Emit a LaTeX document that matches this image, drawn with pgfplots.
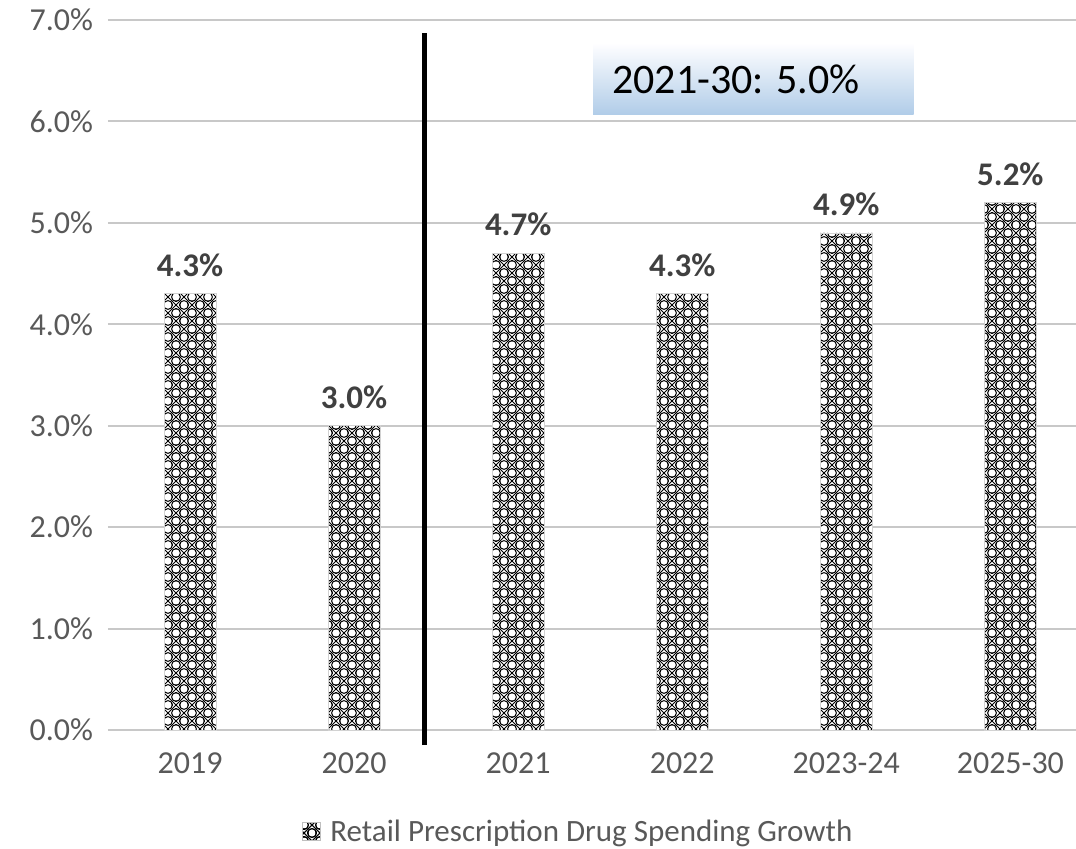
\documentclass[border=0pt]{standalone}
\usepackage{pgfplots}
\pgfplotsset{compat=1.18}
\usepackage{fontspec}
\setmainfont{Carlito}
\usetikzlibrary{patterns,patterns.meta}
\definecolor{tickgray}{HTML}{595959}
\definecolor{labgray}{HTML}{404040}
\definecolor{gridgray}{HTML}{C8C8C8}
\tikzdeclarepattern{
  name=lattice,
  type=uncolored,
  bounding box={(-.5pt,-.5pt) and (8.5pt,8.5pt)},
  tile size={(8pt,8pt)},
  code={
    \draw[line width=.5pt] (0,0) -- (8pt,8pt) (0,8pt) -- (8pt,0);
    \draw[line width=.5pt] (4pt,0pt) circle (2.2pt);
    \draw[line width=.5pt] (4pt,8pt) circle (2.2pt);
    \draw[line width=.5pt] (0pt,4pt) circle (2.2pt);
    \draw[line width=.5pt] (8pt,4pt) circle (2.2pt);
  }
}
\begin{document}
\begin{tikzpicture}
\path[use as bounding box] (0,0) rectangle (538pt,424.5pt);
\begin{axis}[
  at={(54pt,59.5pt)}, anchor=south west,
  scale only axis, width=484pt, height=355pt,
  xmin=-0.5, xmax=5.4, ymin=0, ymax=7,
  ybar, bar width=26pt,
  xtick={0,1,2,3,4,5},
  xticklabels={2019,2020,2021,2022,2023-24,2025-30},
  ytick={0,1,2,3,4,5,6,7},
  yticklabel={\pgfmathprintnumber[fixed,fixed zerofill,precision=1]{\tick}\%},
  /pgf/number format/assume math mode=true,
  ymajorgrids, grid style={gridgray, line width=1pt},
  axis line style={draw=none},
  major tick length=0pt,
  tick label style={font=\fontsize{16}{19}\selectfont, text=tickgray},
  yticklabel style={xshift=-4pt},
  xticklabel style={yshift=-8pt},
  clip=false,
  nodes near coords={\pgfmathprintnumber[fixed,fixed zerofill,precision=1]{\pgfplotspointmeta}\%},
  nodes near coords style={font=\bfseries\fontsize{16.5}{19}\selectfont, text=labgray, yshift=5pt},
  legend style={at={(0.487,-0.144)}, anchor=center, draw=none, font=\fontsize{15.5}{18}\selectfont, text=tickgray, legend cell align=left},
  legend image code/.code={\draw[draw=gray!50, fill=white, postaction={pattern=lattice}] (0pt,-4pt) rectangle (9pt,5pt);},
]
\addplot[draw=gray!35, fill=white, postaction={pattern=lattice, pattern color=black}] coordinates {(0,4.3) (1,3.0) (2,4.7) (3,4.3) (4,4.9) (5,5.2)};
\addlegendentry{\,Retail Prescription Drug Spending Growth}
\addplot[black, line width=2.6pt, sharp plot, nodes near coords={}, forget plot] coordinates {(1.43,-0.15) (1.43,6.87)};
\shade[top color=white!85!blue!5, bottom color={rgb,255:red,176;green,204;blue,232}] (axis cs:2.457,6.065) rectangle (axis cs:4.41,6.755);
\node[anchor=west, font=\fontsize{21}{25}\selectfont] at (axis cs:2.53,6.41) {2021-30: 5.0\%};
\end{axis}
\end{tikzpicture}
\end{document}
